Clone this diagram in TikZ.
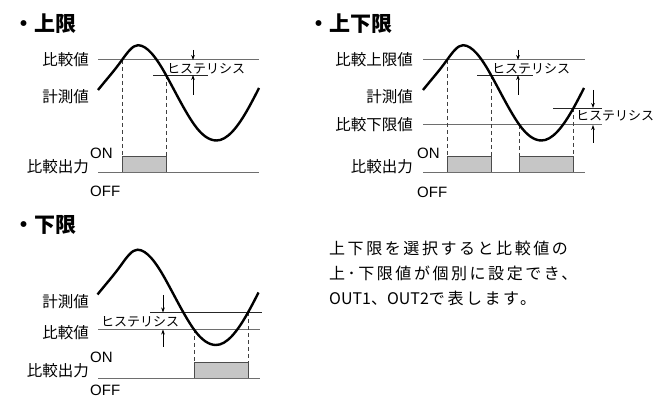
\documentclass[tikz,border=0pt]{standalone}
\usepackage{fontspec}
\setmainfont{Liberation Sans}
\newfontfamily\jp{Noto Sans CJK JP}
\newfontfamily\jppara[LetterSpace=16]{Noto Sans CJK JP}
\usetikzlibrary{arrows.meta}
\definecolor{linegray}{HTML}{6E6E6E}
\definecolor{boxgray}{HTML}{C6C6C6}
% one period of the measured-value curve, relative to its peak
\newcommand\wavecurve{(-40,44.8)
  .. controls +(8,-10) and +(-8,11.2) .. (-16,14.8)
  .. controls +(5.333,-7.467) and +(-5.333,0) .. (0,0)
  .. controls +(9.333,0) and +(-9.333,-16.8) .. (28,29.8)
  .. controls +(9.5,17.1) and +(-9.5,-13.3) .. (56.5,79.8)
  .. controls +(7.333,10.267) and +(-7.333,0) .. (78.5,95.3)
  .. controls +(10.667,0) and +(-10.667,19.2) .. (110.5,62.8)
  .. controls +(3.5,-6.3) and +(-3.5,7) .. (121,42.8)}
\tikzset{
  lbl/.style={font=\jp\fontsize{15.5}{15.5}\selectfont, inner sep=0pt, anchor=east},
  onoff/.style={font=\fontsize{15}{15}\selectfont, inner sep=0pt, anchor=west},
  hyst/.style={font=\jp\fontsize{13}{13}\selectfont, inner sep=0pt, anchor=west},
  ttl/.style={font=\jp\bfseries\fontsize{21}{21}\selectfont, inner sep=0pt, anchor=west},
  para/.style={font=\jppara\fontsize{16}{25}\selectfont, inner sep=0pt, anchor=west, align=left},
  refline/.style={draw=linegray, line width=1pt},
  hline/.style={draw=black!85, line width=0.8pt},
  wave/.style={draw=black, line width=2.4pt},
  drop/.style={draw=black!75, line width=0.8pt, dash pattern=on 4pt off 3pt},
  outbox/.style={draw=black!70, fill=boxgray, line width=1pt},
  harrow/.style={draw=black, line width=0.7pt, -{Stealth[length=5pt,width=3.6pt]}},
}
\begin{document}
\begin{tikzpicture}[x=1pt,y=-1pt]
\useasboundingbox (0,0) rectangle (670,398);

% ================= panel 1 : upper limit =================
\node[ttl] (t1) at (13,24) {・上限};
\coordinate (p1top) at (0,157);
\coordinate (p1base) at (0,173);
\coordinate (p1a) at (122,60);
\coordinate (p1b) at (166,75);
\draw[refline] (98,60) -- (259,60);
\draw[hline] (153,75) -- (208,75);
\draw[drop] (p1a) -- (p1a |- p1top);
\draw[drop] (p1b) -- (p1b |- p1top);
\draw[outbox] (p1a |- p1base) rectangle (p1b |- p1top);
\draw[refline] (98,173) -- (259,173);
\begin{scope}[shift={(138,45.2)}]
  \draw[wave] \wavecurve;
\end{scope}
\node[lbl] (p1cmpl) at (89,60) {比較値};
\node[lbl] (p1meas) at (89,97) {計測値};
\node[lbl] (p1outl) at (89,167) {比較出力};
\node[onoff] (p1on) at (90,153) {ON};
\node[onoff] (p1off) at (90,191) {OFF};
\node[hyst] (p1hyl) at (167,69) {ヒステリシス};
\coordinate (p1u0) at (193,50); \coordinate (p1u1) at (193,60);
\coordinate (p1d0) at (193,95); \coordinate (p1d1) at (193,75);
\draw[harrow] (p1u0) -- (p1u1);
\draw[harrow] (p1d0) -- (p1d1);

% ================= panel 2 : upper/lower limit =================
\node[ttl] (t2) at (308,24) {・上下限};
\coordinate (p2top) at (0,157);
\coordinate (p2base) at (0,173);
\coordinate (p2a) at (447,60);
\coordinate (p2b) at (491,75);
\coordinate (p2c) at (519.5,125);
\coordinate (p2d) at (573.5,108);
\draw[refline] (423,60) -- (585,60);
\draw[hline] (477,75) -- (533,75);
\draw[refline] (423,125) -- (602,125);
\draw[hline] (553,108) -- (602,108);
\draw[drop] (p2a) -- (p2a |- p2top);
\draw[drop] (p2b) -- (p2b |- p2top);
\draw[drop] (p2c) -- (p2c |- p2top);
\draw[drop] (p2d) -- (p2d |- p2top);
\draw[outbox] (p2a |- p2base) rectangle (p2b |- p2top);
\draw[outbox] (p2c |- p2base) rectangle (p2d |- p2top);
\draw[refline] (423,173) -- (585,173);
\begin{scope}[shift={(463,45.2)}]
  \draw[wave] \wavecurve;
\end{scope}
\node[lbl] (p2cmpul) at (413,60) {比較上限値};
\node[lbl] (p2meas) at (413,97) {計測値};
\node[lbl] (p2cmpll) at (413,125) {比較下限値};
\node[lbl] (p2outl) at (413,167) {比較出力};
\node[onoff] (p2on) at (417,153) {ON};
\node[onoff] (p2off) at (417,192) {OFF};
\node[hyst] (p2hyu) at (492,69) {ヒステリシス};
\node[hyst] (p2hyl) at (576,116) {ヒステリシス};
\coordinate (p2u0) at (518,50); \coordinate (p2u1) at (518,60);
\coordinate (p2d0) at (518,95); \coordinate (p2d1) at (518,75);
\coordinate (p2v0) at (593,90); \coordinate (p2v1) at (593,108);
\coordinate (p2w0) at (593,143); \coordinate (p2w1) at (593,125);
\draw[harrow] (p2u0) -- (p2u1);
\draw[harrow] (p2d0) -- (p2d1);
\draw[harrow] (p2v0) -- (p2v1);
\draw[harrow] (p2w0) -- (p2w1);

% ================= panel 3 : lower limit =================
\node[ttl] (t3) at (13,225) {・下限};
\coordinate (p3top) at (0,363);
\coordinate (p3base) at (0,378);
\coordinate (p3a) at (194,329.5);
\coordinate (p3b) at (248,312.5);
\draw[hline] (150,312.5) -- (262,312.5);
\draw[refline] (98,329.5) -- (260,329.5);
\draw[drop] (p3a) -- (p3a |- p3top);
\draw[drop] (p3b) -- (p3b |- p3top);
\draw[outbox] (p3a |- p3base) rectangle (p3b |- p3top);
\draw[refline] (98,378) -- (260,378);
\begin{scope}[shift={(137.5,249.7)}]
  \draw[wave] \wavecurve;
\end{scope}
\node[lbl] (p3meas) at (89,302) {計測値};
\node[lbl] (p3cmpl) at (89,333) {比較値};
\node[lbl] (p3outl) at (89,371) {比較出力};
\node[onoff] (p3on) at (90,357) {ON};
\node[onoff] (p3off) at (90,390.5) {OFF};
\node[hyst] (p3hyl) at (101,321.5) {ヒステリシス};
\coordinate (p3u0) at (163,295); \coordinate (p3u1) at (163,312.5);
\coordinate (p3d0) at (163,347); \coordinate (p3d1) at (163,329.5);
\draw[harrow] (p3u0) -- (p3u1);
\draw[harrow] (p3d0) -- (p3d1);

% ================= note =================
\node[para] (note) at (329,273) {上下限を選択すると比較値の\\上･下限値が個別に設定でき、\\{\jp OUT1}、{\jp OUT2}で表します。};
\end{tikzpicture}
\end{document}
